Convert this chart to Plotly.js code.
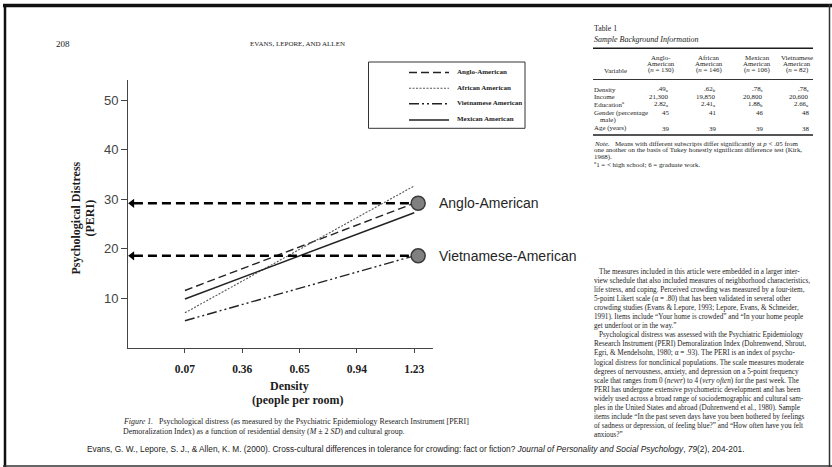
<!DOCTYPE html>
<html><head><meta charset="utf-8">
<script src="https://cdn.plot.ly/plotly-3.0.1.min.js"></script>
<style>html,body{margin:0;padding:0;background:#fff;} #chart{width:832px;height:467px;}</style>
</head><body><div id="chart"></div>
<script>
// ---------------- DATA ----------------
const densityTicks = [0.07, 0.36, 0.65, 0.94, 1.23];
const densityTickLabels = ['0.07', '0.36', '0.65', '0.94', '1.23'];
const distressTicks = [10, 20, 30, 40, 50];
const lineX = [0.07, 1.23];
const seriesNames = ['Anglo-American', 'African American', 'Vietnamese American', 'Mexican American'];
const angloY = [11.6, 29.2];
const africanY = [7.1, 32.7];
const vietnameseY = [5.5, 18.6];
const mexicanY = [9.9, 27.3];
const highlightLabels = ['Anglo-American', 'Vietnamese-American'];
const highlightX = [1.25, 1.25];
const highlightY = [29.2, 18.6];

// Table 1 contents
const tableGroupNames = [['Anglo-', 'American'], ['African', 'American'], ['Mexican', 'American'], ['Vietnamese', 'American']];
const tableGroupN = [130, 146, 106, 82];
const tableVariables = ['Density', 'Income', 'Education<sup>a</sup>', 'Gender (percentage', 'Age (years)'];
const densityRow = ['.49<sub>a</sub>', '.62<sub>b</sub>', '.78<sub>c</sub>', '.78<sub>c</sub>'];
const incomeRow = ['21,300', '19,850', '20,800', '20,600'];
const educationRow = ['2.82<sub>a</sub>', '2.41<sub>a</sub>', '1.88<sub>b</sub>', '2.66<sub>a</sub>'];
const genderRow = ['45', '41', '46', '48'];
const ageRow = ['39', '39', '39', '38'];

// ---------------- STYLE / LAYOUT ----------------
const SERIF = 'Liberation Serif, Times New Roman, serif';
const SANS = 'Liberation Sans, Arial, sans-serif';
const INK = '#1c1c1c';
const seriesY = [angloY, africanY, vietnameseY, mexicanY];
const seriesStyle = [
  {color: '#222', width: 1.4, dash: '8px,4px'},
  {color: '#555', width: 1.1, dash: '2px,1.5px'},
  {color: '#222', width: 1.4, dash: '10px,3px,2px,3px,2px,3px'},
  {color: '#222', width: 1.5, dash: 'solid'}
];
const L = 128, T = 80, W = 305, H = 268;
const xRange = [-0.218, 1.325];
const yRange = [0, 54.07];
const px = x => (x - L) / W;
const py = y => (T + H - y) / H;

const shapes = [];
const annotations = [];
function txt(x, y, text, size, o) {
  o = o || {};
  annotations.push({xref: 'paper', yref: 'paper', x: px(x), y: py(y), text: text, showarrow: false,
    xanchor: o.anchor || 'left', yanchor: 'middle', textangle: o.angle || 0, borderpad: 0,
    font: {family: o.family || SERIF, size: size, color: o.color || INK, weight: o.weight || 'normal'}});
}
function hline(x0, x1, y, w, color, dash) {
  shapes.push({type: 'line', xref: 'paper', yref: 'paper', x0: px(x0), x1: px(x1), y0: py(y), y1: py(y),
    line: {color: color || INK, width: w, dash: dash || 'solid'}});
}
function vline(x, y0, y1, w, color) {
  shapes.push({type: 'line', xref: 'paper', yref: 'paper', x0: px(x), x1: px(x), y0: py(y0), y1: py(y1),
    line: {color: color || INK, width: w}});
}

// frame
hline(3, 832, 5.5, 3.5, '#111');
vline(5, 4, 467, 2.5, '#111');
vline(829.5, 4, 467, 1.5, '#333');
hline(3, 832, 466, 1.5, '#333');

// page header
txt(55, 43.5, '208', 9);
txt(297.5, 43.5, 'EVANS, LEPORE, AND ALLEN', 7, {anchor: 'center'});

// legend box (manual)
shapes.push({type: 'rect', xref: 'paper', yref: 'paper', x0: px(368.5), x1: px(525), y0: py(128.3), y1: py(62),
  line: {color: '#333', width: 1}, fillcolor: 'rgba(0,0,0,0)'});
const legendY = [72.5, 88.3, 103.7, 120];
seriesNames.forEach((n, i) => {
  hline(409, 449, legendY[i], seriesStyle[i].width, seriesStyle[i].color, seriesStyle[i].dash);
  txt(455.5, legendY[i] - 0.5, n, 7, {weight: 'bold'});
});

// y-axis title
txt(75.5, 218, 'Psychological Distress', 12, {anchor: 'center', angle: -90, weight: 'bold'});
txt(89.5, 218, '(PERI)', 12, {anchor: 'center', angle: -90, weight: 'bold'});
// x-axis title
txt(289.5, 386, 'Density', 12, {anchor: 'center', weight: 'bold'});
txt(298, 400, '(people per room)', 12, {anchor: 'center', weight: 'bold'});

// figure caption
txt(121.5, 421.7, '<i>Figure 1.</i>   Psychological distress (as measured by the Psychiatric Epidemiology Research Instrument [PERI]', 7.9);
txt(121.5, 431.7, 'Demoralization Index) as a function of residential density (<i>M</i> ± 2 <i>SD</i>) and cultural group.', 7.9);

// Table 1
const TF = 6.9;
txt(593, 28.3, 'Table 1', 7.8);
txt(593, 39.3, '<i>Sample Background Information</i>', 8);
hline(593, 813, 48.3, 1.6);
const colC = [661, 709, 757, 797];
const colR = [670, 717, 764, 810];
tableGroupNames.forEach((g, i) => {
  txt(colC[i], 57.3, g[0], TF, {anchor: 'center'});
  txt(colC[i], 63.8, g[1], TF, {anchor: 'center'});
  txt(colC[i], 70.3, '(<i>n</i> = ' + tableGroupN[i] + ')', TF, {anchor: 'center'});
});
txt(615, 70.3, 'Variable', TF, {anchor: 'center'});
hline(593, 813, 79.5, 0.9);
const rowY = [89.3, 96.7, 104, 112.7, 128.3];
const rows = [densityRow, incomeRow, educationRow, genderRow, ageRow];
tableVariables.forEach((v, r) => {
  txt(593.3, rowY[r], v, TF);
  rows[r].forEach((val, c) => txt(colR[c], rowY[r], val, TF, {anchor: 'right'}));
});
txt(598.5, 120.3, 'male)', TF);
hline(593, 813, 135, 1.4);
txt(593, 143.3, '<i>Note.</i>   Means with different subscripts differ significantly at <i>p</i> &lt; .05 from', 6.9);
txt(593, 150.3, 'one another on the basis of Tukey honestly significant difference test (Kirk,', 6.9);
txt(593, 157.3, '1968).', 6.9);
txt(593, 164.3, '<sup>a</sup>1 = &lt; high school; 6 = graduate work.', 6.9);

// body text
const bodyLines = [
  'The measures included in this article were embedded in a larger inter-',
  'view schedule that also included measures of neighborhood characteristics,',
  'life stress, and coping. Perceived crowding was measured by a four-item,',
  '5-point Likert scale (α = .80) that has been validated in several other',
  'crowding studies (Evans &amp; Lepore, 1993; Lepore, Evans, &amp; Schneider,',
  '1991). Items include “Your home is crowded” and “In your home people',
  'get underfoot or in the way.”',
  'Psychological distress was assessed with the Psychiatric Epidemiology',
  'Research Instrument (PERI) Demoralization Index (Dohrenwend, Shrout,',
  'Egri, &amp; Mendelsohn, 1980; α = .93). The PERI is an index of psycho-',
  'logical distress for nonclinical populations. The scale measures moderate',
  'degrees of nervousness, anxiety, and depression on a 5-point frequency',
  'scale that ranges from 0 (<i>never</i>) to 4 (<i>very often</i>) for the past week. The',
  'PERI has undergone extensive psychometric development and has been',
  'widely used across a broad range of sociodemographic and cultural sam-',
  'ples in the United States and abroad (Dohrenwend et al., 1980). Sample',
  'items include “In the past seven days have you been bothered by feelings',
  'of sadness or depression, of feeling blue?” and “How often have you felt',
  'anxious?”'
];
bodyLines.forEach((ln, i) => {
  const indent = (i === 0 || i === 7) ? 5 : 0;
  txt(593 + indent, 271.5 + i * 9.1, ln, 7.2);
});

// citation
txt(416, 448.5, 'Evans, G. W., Lepore, S. J., &amp; Allen, K. M. (2000). Cross-cultural differences in tolerance for crowding: fact or fiction? <i>Journal of Personality and Social Psychology</i>, <i>79</i>(2), 204-201.', 8.3,
  {anchor: 'center', family: SANS, color: '#222'});

// ---------------- TRACES ----------------
const traces = [];
seriesNames.forEach((n, i) => {
  traces.push({x: lineX, y: seriesY[i], name: n, mode: 'lines', line: seriesStyle[i],
    showlegend: false, hoverinfo: 'skip', cliponaxis: false});
});
highlightY.forEach((v, i) => {
  traces.push({x: [xRange[0] + 0.03, highlightX[i]], y: [v, v], mode: 'lines',
    line: {color: '#000', width: 2.6, dash: '9px,5px'}, showlegend: false, hoverinfo: 'skip', cliponaxis: false});
  annotations.push({xref: 'x', yref: 'y', x: highlightX[i], y: v, text: highlightLabels[i], showarrow: false,
    xanchor: 'left', yanchor: 'middle', xshift: 19, font: {family: SANS, size: 14, color: '#262626'}});
});
// arrowheads at the y axis
traces.push({x: highlightY.map(() => xRange[0] + 0.021), y: highlightY, mode: 'markers', showlegend: false,
  hoverinfo: 'skip', cliponaxis: false, marker: {symbol: 'triangle-left', size: 8, color: '#000', line: {width: 0}}});
traces.push({x: highlightX, y: highlightY, mode: 'markers', showlegend: false, hoverinfo: 'skip', cliponaxis: false,
  marker: {size: 14, color: '#808080', line: {color: '#3a3a3a', width: 1.5}}});

const layout = {
  width: 832, height: 467,
  margin: {l: L, r: 832 - L - W, t: T, b: 467 - T - H, pad: 0},
  paper_bgcolor: '#fff', plot_bgcolor: '#fff',
  showlegend: false,
  xaxis: {range: xRange, tickvals: densityTicks, ticktext: densityTickLabels, ticks: 'outside', ticklen: 4,
    tickcolor: '#444', showline: true, linecolor: '#444', linewidth: 1, showgrid: false, zeroline: false,
    ticklabelstandoff: 6, tickfont: {family: SERIF, size: 11.5, weight: 'bold', color: INK}, fixedrange: true},
  yaxis: {range: yRange, tickvals: distressTicks, ticks: 'outside', ticklen: 6, tickcolor: '#444',
    showline: true, linecolor: '#444', linewidth: 1, showgrid: false, zeroline: false,
    tickfont: {family: SANS, size: 13, color: '#444'}, fixedrange: true},
  shapes: shapes,
  annotations: annotations
};
Plotly.newPlot('chart', traces, layout, {displayModeBar: false, staticPlot: true});
</script>
</body></html>
